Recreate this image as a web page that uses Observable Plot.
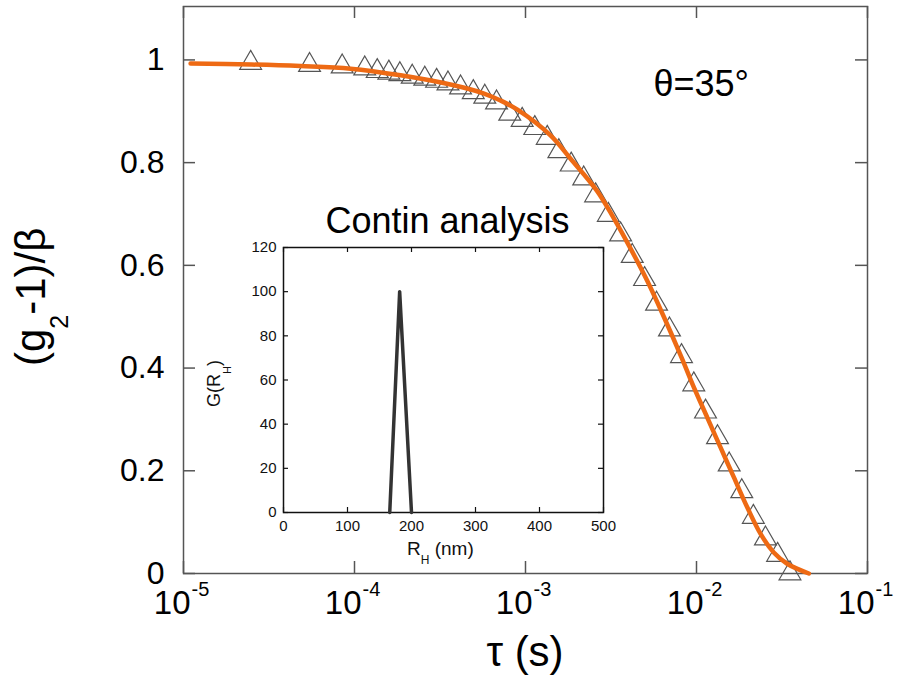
<!DOCTYPE html>
<html><head><meta charset="utf-8">
<script src="https://cdn.jsdelivr.net/npm/d3@7"></script>
<script src="https://cdn.jsdelivr.net/npm/@observablehq/plot@0.6"></script>
<style>
html,body{margin:0;padding:0;background:#fff;}
#chart{position:relative;width:897px;height:676px;font-family:"Liberation Sans",Arial,sans-serif;}
#chart svg{position:absolute;overflow:visible;}
</style></head><body><div id="chart"></div>
<script>
// ---- main data: measured correlation function (triangles)
const tau = [2.47e-5, 5.46e-5, 8.47e-5, 1.148e-4, 1.358e-4, 1.588e-4, 1.842e-4, 2.175e-4, 2.577e-4, 3.02e-4,
  3.52e-4, 4.17e-4, 4.95e-4, 5.78e-4, 6.77e-4, 8.09e-4, 9.56e-4, 1.133e-3, 1.34e-3, 1.567e-3,
  1.85e-3, 2.19e-3, 2.57e-3, 3.05e-3, 3.60e-3, 4.21e-3, 4.97e-3, 5.84e-3, 6.95e-3, 8.17e-3,
  9.64e-3, 1.129e-2, 1.327e-2, 1.553e-2, 1.84e-2, 2.15e-2, 2.53e-2, 2.98e-2, 3.52e-2];
const corr = [0.994, 0.990, 0.987, 0.983, 0.978, 0.975, 0.972, 0.967, 0.963, 0.959,
  0.954, 0.946, 0.937, 0.928, 0.917, 0.895, 0.883, 0.867, 0.848, 0.822,
  0.796, 0.769, 0.736, 0.698, 0.660, 0.618, 0.573, 0.525, 0.475, 0.423,
  0.368, 0.315, 0.265, 0.212, 0.160, 0.110, 0.068, 0.036, 0.000];
// ---- fit curve (orange)
const fitTau = [1.10e-5, 2.5e-5, 4.83e-5, 9.48e-5, 1.86e-4, 3.64e-4, 5.67e-4, 7.14e-4, 8.97e-4, 1.40e-3,
  1.83e-3, 2.62e-3, 3.28e-3, 4.11e-3, 5.15e-3, 6.44e-3, 8.17e-3, 9.64e-3, 1.155e-2,
  1.38e-2, 1.65e-2, 1.98e-2, 2.37e-2, 2.83e-2, 3.39e-2, 4.54e-2];
const fitCorr = [0.993, 0.991, 0.988, 0.983, 0.970, 0.952, 0.935, 0.921, 0.903, 0.853,
  0.808, 0.745, 0.692, 0.633, 0.570, 0.500, 0.421, 0.363, 0.304,
  0.246, 0.188, 0.129, 0.077, 0.041, 0.019, 0.000];
// ---- main ticks
const xTicks = [1e-5, 1e-4, 1e-3, 1e-2, 1e-1];
const xTickBase = ["10", "10", "10", "10", "10"];
const xTickExp = ["-5", "-4", "-3", "-2", "-1"];
const yTicks = [0, 0.2, 0.4, 0.6, 0.8, 1];
const yTickLabels = ["0", "0.2", "0.4", "0.6", "0.8", "1"];
const angleLabel = ["θ=35°"];
// ---- inset (Contin analysis)
const rh = [166, 181.5, 200];
const gRh = [0, 100, 0];
const inXTicks = [0, 100, 200, 300, 400, 500];
const inYTicks = [0, 20, 40, 60, 80, 100, 120];
const insetTitle = ["Contin analysis"];

const FONT = '"Liberation Sans", Arial, sans-serif';
const W = 897, H = 676, mL = 183, mR = 30, mT = 6, mB = 103;
const fw = W - mL - mR, fh = H - mT - mB, tk = 12;
const axisCol = "#555";

const points = tau.map((t, i) => ({t, v: corr[i]}));
const fit = fitTau.map((t, i) => ({t, v: fitCorr[i]}));

const main = Plot.plot({
  width: W, height: H, marginLeft: mL, marginRight: mR, marginTop: mT, marginBottom: mB,
  style: {fontFamily: FONT, background: "transparent", color: "#000", overflow: "visible"},
  x: {type: "log", domain: [1e-5, 1e-1], axis: null},
  y: {domain: [0, 1.104], axis: null},
  marks: [
    Plot.tickX(xTicks, {x: d => d, insetTop: fh - tk, stroke: axisCol, strokeWidth: 1.5}),
    Plot.tickX(xTicks, {x: d => d, insetBottom: fh - tk, stroke: axisCol, strokeWidth: 1.5}),
    Plot.tickY(yTicks, {y: d => d, insetRight: fw - tk, stroke: axisCol, strokeWidth: 1.5}),
    Plot.tickY(yTicks, {y: d => d, insetLeft: fw - tk, stroke: axisCol, strokeWidth: 1.5}),
    Plot.frame({stroke: axisCol, strokeWidth: 1.5}),
    Plot.text(yTicks, {y: d => d, frameAnchor: "left", text: (d, i) => yTickLabels[i], textAnchor: "end", dx: -19, fontSize: 32, fill: "#000"}),
    Plot.text(xTicks, {x: d => d, frameAnchor: "bottom", text: (d, i) => xTickBase[i], textAnchor: "end", lineAnchor: "bottom", dx: 7, dy: 40, fontSize: 33, fill: "#000"}),
    Plot.text(xTicks, {x: d => d, frameAnchor: "bottom", text: (d, i) => xTickExp[i], textAnchor: "start", lineAnchor: "bottom", dx: 8, dy: 22, fontSize: 20, fill: "#000"}),
    Plot.dot(points, {x: "t", y: "v", symbol: "triangle", r: 8.1, stroke: "#555", strokeWidth: 1.2, fill: "none"}),
    Plot.line(fit, {x: "t", y: "v", stroke: "#ee6a14", strokeWidth: 4.5, curve: "catmull-rom"}),
    Plot.text(angleLabel, {frameAnchor: "top-left", text: d => d, textAnchor: "start", lineAnchor: "bottom", dx: 653 - mL, dy: 95 - mT, fontSize: 36, fill: "#000"})
  ]
});

// axis titles
const sm = d3.select(main);
const yt = sm.append("text").attr("transform", "translate(45,366) rotate(-90)")
  .attr("text-anchor", "start").attr("font-size", 42).attr("font-family", FONT).attr("fill", "#000");
yt.append("tspan").text("(g");
yt.append("tspan").attr("font-size", 25).attr("dy", 23).text("2");
yt.append("tspan").attr("dy", -23).text("-1)/β");
sm.append("text").attr("x", 525).attr("y", 666).attr("text-anchor", "middle")
  .attr("font-size", 42).attr("font-family", FONT).attr("fill", "#000").text("τ (s)");
// inset titles
const gt = sm.append("text").attr("transform", "translate(220,407) rotate(-90)")
  .attr("text-anchor", "start").attr("font-size", 18).attr("font-family", FONT).attr("fill", "#111");
gt.append("tspan").text("G(R");
gt.append("tspan").attr("font-size", 11).attr("dy", 11).text("H");
gt.append("tspan").attr("dy", -11).text(")");
const rt = sm.append("text").attr("x", 407).attr("y", 555).attr("text-anchor", "start")
  .attr("font-size", 19).attr("font-family", FONT).attr("fill", "#111");
rt.append("tspan").text("R");
rt.append("tspan").attr("font-size", 12).attr("dy", 9).text("H");
rt.append("tspan").attr("dy", -9).text(" (nm)");

// inset plot
const iW = 400, iH = 365, iL = 60, iR = 20, iT = 50, iB = 50;
const ifw = iW - iL - iR, ifh = iH - iT - iB, itk = 5;
const inCol = "#111";
const dist = rh.map((r, i) => ({r, g: gRh[i]}));
const inset = Plot.plot({
  width: iW, height: iH, marginLeft: iL, marginRight: iR, marginTop: iT, marginBottom: iB,
  style: {fontFamily: FONT, background: "transparent", color: "#000", overflow: "visible"},
  x: {domain: [0, 500], axis: null},
  y: {domain: [0, 120], axis: null},
  marks: [
    Plot.tickX(inXTicks, {x: d => d, insetTop: ifh - itk, stroke: inCol, strokeWidth: 1.2}),
    Plot.tickX(inXTicks, {x: d => d, insetBottom: ifh - itk, stroke: inCol, strokeWidth: 1.2}),
    Plot.tickY(inYTicks, {y: d => d, insetRight: ifw - itk, stroke: inCol, strokeWidth: 1.2}),
    Plot.tickY(inYTicks, {y: d => d, insetLeft: ifw - itk, stroke: inCol, strokeWidth: 1.2}),
    Plot.frame({stroke: inCol, strokeWidth: 1.5}),
    Plot.text(inXTicks, {x: d => d, frameAnchor: "bottom", text: d => String(d), lineAnchor: "bottom", dy: 18, fontSize: 15, fill: "#111"}),
    Plot.text(inYTicks, {y: d => d, frameAnchor: "left", text: d => String(d), textAnchor: "end", dx: -7, fontSize: 15, fill: "#111"}),
    Plot.line(dist, {x: "r", y: "g", stroke: "#333", strokeWidth: 3.5, strokeLinejoin: "round"}),
    Plot.text(insetTitle, {frameAnchor: "top", text: d => d, lineAnchor: "bottom", dx: 4, dy: -15, fontSize: 36, fill: "#000"})
  ]
});
main.style.left = "0px"; main.style.top = "0px";
inset.style.left = (283 - iL) + "px"; inset.style.top = (247 - iT) + "px";
const c = document.getElementById("chart");
c.appendChild(main);
c.appendChild(inset);
</script></body></html>
